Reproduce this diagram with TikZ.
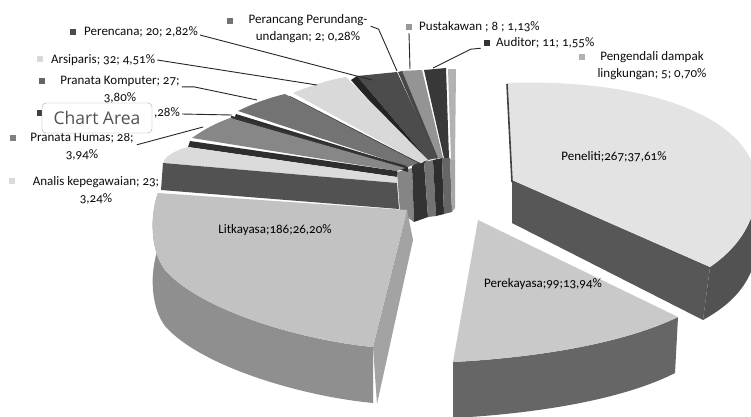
\documentclass[tikz,border=0pt]{standalone}
\usepackage{fontspec}
\setmainfont{Carlito}[Numbers=OldStyle]
\newfontfamily\tipfont{Open Sans}
\newcommand\lblfont{\fontsize{13}{17}\selectfont}
\begin{document}
\begin{tikzpicture}[x=1pt,y=-1pt,
  lbl/.style={font=\lblfont, inner sep=0pt, align=center, text=black!95},
  mk/.style={minimum size=6pt, inner sep=0pt},
  leader/.style={draw=black!85, line width=0.9pt},
  slicelbl/.style={font=\lblfont, inner sep=0pt, text=black}]
\useasboundingbox (0,0) rectangle (751,416);
\fill[white] (0,0) rectangle (751,416);

% ---------- fan of small slices: vertical end strips ----------
\fill[black!48] (397,172) -- (412,168) -- (414,222) -- (400,212) -- cycle;
\fill[black!80] (412,166) -- (424,162) -- (428,217) -- (414,222) -- cycle;
\fill[black!55] (424,162) -- (433,160) -- (436,216) -- (428,217) -- cycle;
\fill[black!82] (433,160) -- (442,158) -- (444,214) -- (436,216) -- cycle;
\fill[black!60] (442,158) -- (450,158) -- (452,212) -- (444,214) -- cycle;
\fill[black!35] (450,159) -- (455,160) -- (455,208) -- (452,212) -- cycle;

% Pengendali dampak lingkungan
\fill[black!30] (448,69) -- (456,69) -- (455,160) -- (451,160) -- cycle;
% Auditor
\fill[black!78] (424,70) -- (446,68) -- (449,158) -- (444,158) -- cycle;
% Pustakawan
\fill[black!42] (401,71) -- (422,70) -- (443,158) -- (438,158) -- cycle;
\fill[black!72] (398,72) -- (402,71) -- (438,158) -- (436,159) -- cycle;
% Perencana
\fill[black!70] (357,76) -- (397,72) -- (437,158) -- (428,160) -- cycle;
\fill[black!86] (351,80) -- (357,76) -- (428,160) -- (424,163) -- cycle;
% Arsiparis
\fill[black!15] (293,93) .. controls (310,86) and (328,80) .. (346,77) -- (428,160) -- (420,163) -- cycle;
\fill[black!78] (290,96) -- (420,163) -- (420,169) -- (288,101) -- cycle;
% Pranata Komputer
\fill[black!55] (238,111) .. controls (252,104) and (268,98) .. (285,94) -- (418,163) -- (408,167) -- cycle;
\fill[black!82] (236,114) -- (408,167) -- (408,172) -- (234,119) -- cycle;
% hidden thin slice
\draw[black!80, line width=2.5pt] (231,117) -- (406,167);
% Pranata Humas
\fill[black!47] (192,138) .. controls (203,130) and (216,123) .. (230,118) -- (405,168) -- (397,171) -- cycle;
\fill[black!82] (190,141) -- (397,171) -- (397,177) -- (188,147) -- cycle;
% Analis kepegawaian
\fill[black!14] (163,163) .. controls (165,156) and (176,150) .. (188,147) -- (397,177) -- (397,183) -- cycle;
\fill[black!68] (163,163) -- (397,183) -- (399,209) -- (161,190) -- cycle;

% ---------- Litkayasa ----------
\fill[black!44] (373,347) .. controls (300,340) and (200,310) .. (165,270)
   .. controls (150,250) and (150,215) .. (158,193) -- (158,249)
   .. controls (150,271) and (150,306) .. (165,326)
   .. controls (200,366) and (300,396) .. (373,403) -- cycle;
\fill[black!36] (407,210) -- (413,240) -- (377,404) -- (373,347) -- cycle;
\fill[black!24] (158,193) -- (407,210) -- (373,347)
   .. controls (300,340) and (200,310) .. (165,270)
   .. controls (150,250) and (150,215) .. (158,193) -- cycle;

% ---------- Peneliti ----------
\fill[black!68] (710,267) .. controls (735,250) and (755,225) .. (757,190)
   -- (757,250) .. controls (752,285) and (730,305) .. (703,320) -- cycle;
\fill[black!66] (512,180) -- (710,267) -- (703,320) -- (512,223) -- cycle;
\fill[black!11] (507,83) .. controls (640,78) and (760,115) .. (757,190)
   .. controls (755,225) and (735,250) .. (710,267) -- (512,180) -- cycle;
\draw[black!75, line width=1.6pt] (507,84) -- (512,182);

% ---------- Perekayasa ----------
\fill[black!60] (678,317) .. controls (620,345) and (530,358) .. (453,362)
   -- (453,418) .. controls (530,414) and (620,401) .. (675,373) -- cycle;
\fill[black!21] (478,220) -- (678,317) .. controls (620,345) and (530,358) .. (453,362) -- cycle;

% ---------- slice labels ----------
\node[slicelbl] (lPen) at (614,157) {Peneliti;267;37,61\%};
\node[slicelbl] (lLit) at (275,230) {Litkayasa;186;26,20\%};
\node[slicelbl] (lPrk) at (543,284) {Perekayasa;99;13,94\%};

% ---------- outside labels ----------
\node[mk, fill=black!70] (mPer) at (73,32) {};
\node[lbl, anchor=west] (lPer) at (84,32) {Perencana; 20; 2,82\%};
\node[mk, fill=black!55] (mPcg) at (230,21) {};
\node[lbl] (lPcg) at (308,28.5) {Perancang Perundang-\\undangan; 2; 0,28\%};
\node[mk, fill=black!40] (mPus) at (409,27) {};
\node[lbl, anchor=west] (lPus) at (419,27) {Pustakawan ; 8 ; 1,13\%};
\node[mk, fill=black!80] (mAud) at (487,43) {};
\node[lbl, anchor=west] (lAud) at (496,43) {Auditor; 11; 1,55\%};
\node[mk, fill=black!30] (mPdl) at (582,57) {};
\node[lbl] (lPdl) at (652,66) {Pengendali dampak\\lingkungan; 5; 0,70\%};
\node[mk, fill=black!15] (mArs) at (40,59) {};
\node[lbl, anchor=west] (lArs) at (51,60) {Arsiparis; 32; 4,51\%};
\node[mk, fill=black!60] (mKom) at (42,81) {};
\node[lbl] (lKom) at (120,89.5) {Pranata Komputer; 27;\\3,80\%};
\node[mk, fill=black!75] (mHid) at (40,113) {};
\node[lbl, anchor=east] (lHid) at (180,113) {,28\%};
\node[mk, fill=black!50] (mHum) at (13,138) {};
\node[lbl] (lHum) at (82,146.5) {Pranata Humas; 28;\\3,94\%};
\node[mk, fill=black!14] (mAna) at (12,181) {};
\node[lbl] (lAna) at (96,190) {Analis kepegawaian; 23;\\3,24\%};

% ---------- leader end points ----------
\coordinate (cPer) at (372,80);
\coordinate (cPcg) at (397,71);
\coordinate (cPus) at (410,69);
\coordinate (cAud) at (433,68);
\coordinate (cArs) at (317,85);
\coordinate (cKom) at (257,100);
\coordinate (cHid) at (232,115);
\coordinate (cHum) at (203,127);

\draw[leader] ([xshift=2pt,yshift=-3pt]lPer.east) -- (cPer);
\draw[leader] ([xshift=3pt,yshift=-12pt]lPcg.north east) -- ++(8,3) -- (cPcg);
\draw[leader] ([yshift=-3pt]mPus.south) -- (cPus);
\draw[leader] ([xshift=-3pt,yshift=-2pt]mAud.south west) -- ++(-10,1) -- (cAud);
\draw[leader] ([xshift=2pt]lArs.east) -- (cArs);
\draw[leader] ([xshift=2pt,yshift=-11pt]lKom.north east) -- ++(12,0) -- (cKom);
\draw[leader] ([xshift=2pt,yshift=-1pt]lHid.east) -- (cHid);
\draw[leader] ([xshift=3pt,yshift=-12pt]lHum.north east) -- (cHum);

% ---------- tooltip ----------
\node[draw=black!35, fill=white, rounded corners=4pt, minimum width=110pt,
      minimum height=30pt, inner sep=0pt, font=\tipfont\fontsize{17.5}{19}\selectfont,
      text=black!68] (tip) at (97,118) {Chart Area};
\end{tikzpicture}
\end{document}
